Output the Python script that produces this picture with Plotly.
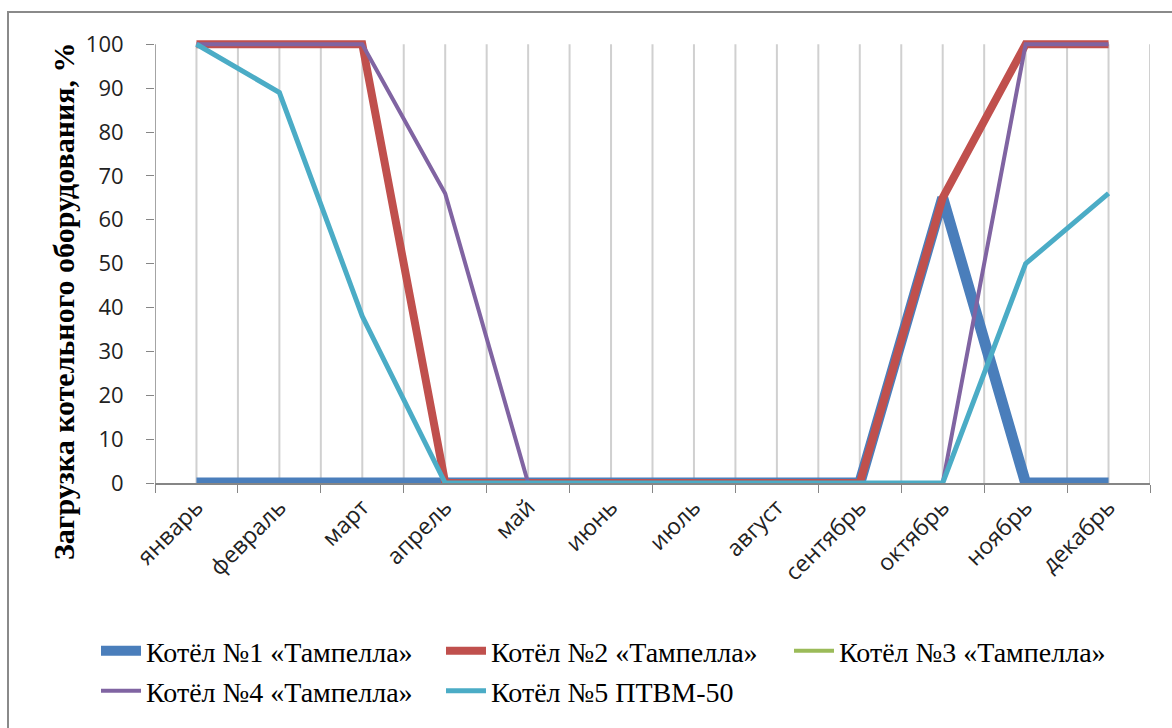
import plotly.graph_objects as go

months = ["январь", "февраль", "март", "апрель", "май", "июнь", "июль",
          "август", "сентябрь", "октябрь", "ноябрь", "декабрь"]

names = ["Котёл №1 «Тампелла»", "Котёл №2 «Тампелла»", "Котёл №3 «Тампелла»",
         "Котёл №4 «Тампелла»", "Котёл №5 ПТВМ-50"]

kotel1 = [0, 0, 0, 0, 0, 0, 0, 0, 0, 65, 0, 0]
kotel2 = [100, 100, 100, 0, 0, 0, 0, 0, 0, 65, 100, 100]
kotel3 = [None] * 12
kotel4 = [100, 100, 100, 66, 0, 0, 0, 0, 0, 0, 100, 100]
kotel5 = [100, 89, 38, 0, 0, 0, 0, 0, 0, 0, 50, 66]

y_ticks = list(range(0, 101, 10))

colors = ["#4A7EBB", "#C0504D", "#9BBB59", "#8064A2", "#4BACC6"]
widths = [11, 8, 4, 4, 5]
series = [kotel1, kotel2, kotel3, kotel4, kotel5]
legend_ids = ["legend", "legend2", "legend3", "legend4", "legend5"]
# legend text left edge (px) and row centre (px)
legend_pos = [(141, 651), (486, 651), (834, 651), (141, 691), (486, 691)]

W, H = 1172, 728
L, R, T, B = 155, 22, 39, 245
ymax = 101.2
PW, PH = W - L - R, H - T - B

fig = go.Figure()
for nm, vals, c, w, lg in zip(names, series, colors, widths, legend_ids):
    fig.add_trace(go.Scatter(
        x=months, y=vals, name=nm, mode="lines",
        line=dict(color=c, width=w),
        legend=lg, showlegend=True,
    ))

shapes = []
for k in range(1, 25):
    xv = -0.5 + k * 0.5
    shapes.append(dict(type="line", xref="x", yref="y", x0=xv, x1=xv, y0=0, y1=100,
                       line=dict(color="#D0D0D0", width=2), layer="below"))
shapes.append(dict(type="line", xref="x", yref="y", x0=-0.5, x1=-0.5, y0=0, y1=100,
                   line=dict(color="#868686", width=1.5), layer="below"))
shapes.append(dict(type="rect", xref="paper", yref="paper",
                   x0=(8 - L) / PW, x1=(1185 - L) / PW,
                   y0=(H - B - 740) / PH, y1=(H - B - 12) / PH,
                   line=dict(color="#8A8A8A", width=2), fillcolor="rgba(0,0,0,0)"))

legend_font = dict(family="Liberation Serif", size=28, color="black")
legends = {}
for lg, (tx, ty) in zip(legend_ids, legend_pos):
    legends[lg] = dict(
        orientation="h", xref="container", yref="container",
        x=(tx - 45) / W, y=1 - ty / H, xanchor="left", yanchor="middle",
        font=legend_font, itemwidth=40, bgcolor="rgba(0,0,0,0)",
    )

fig.update_layout(
    width=W, height=H,
    margin=dict(l=L, r=R, t=T, b=B, autoexpand=False),
    paper_bgcolor="white", plot_bgcolor="white",
    shapes=shapes,
    xaxis=dict(
        type="category", range=[-0.5, 11.5],
        tickson="boundaries", ticks="outside", ticklen=8, tickcolor="#868686",
        showgrid=False, showline=True, linecolor="#868686", linewidth=1.5,
        tickangle=-45, tickfont=dict(family="Open Sans", size=23, color="#222222"),
        zeroline=False, automargin=False,
    ),
    yaxis=dict(
        range=[0, ymax], tickvals=y_ticks, ticks="outside", ticklen=8,
        tickcolor="#868686", showgrid=False, showline=False, zeroline=False,
        tickfont=dict(family="Open Sans", size=22, color="#222222"),
        ticklabelstandoff=18, automargin=False,
    ),
    annotations=[dict(
        text="<b>Загрузка котельного оборудования, %</b>",
        xref="paper", yref="paper",
        x=(63 - L) / PW, y=(H - B - 302) / PH,
        xanchor="center", yanchor="middle", textangle=-90, showarrow=False,
        font=dict(family="Liberation Serif", size=30, color="black"),
    )],
    **legends,
)

fig.write_html("out.html", config={"displayModeBar": False},
               post_script="document.body.style.margin='0';")
